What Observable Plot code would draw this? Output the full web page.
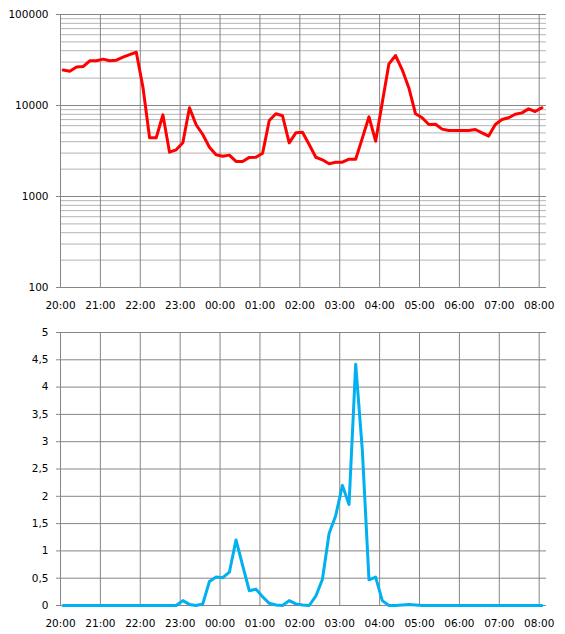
<!DOCTYPE html>
<html><head><meta charset="utf-8">
<script src="https://cdn.jsdelivr.net/npm/d3@7"></script>
<script src="https://cdn.jsdelivr.net/npm/@observablehq/plot@0.6"></script>
<style>
body{margin:0;background:#fff}
#chart svg{display:block}
</style>
</head><body><div id="chart"></div><script>
// Sample times (10-minute samples)
const times = ["20:04","20:14","20:24","20:34","20:44","20:54",
"21:04","21:14","21:24","21:34","21:44","21:54",
"22:04","22:14","22:24","22:34","22:44","22:54",
"23:04","23:14","23:24","23:34","23:44","23:54",
"00:04","00:14","00:24","00:34","00:44","00:54",
"01:04","01:14","01:24","01:34","01:44","01:54",
"02:04","02:14","02:24","02:34","02:44","02:54",
"03:04","03:14","03:24","03:34","03:44","03:54",
"04:04","04:14","04:24","04:34","04:44","04:54",
"05:04","05:14","05:24","05:34","05:44","05:54",
"06:04","06:14","06:24","06:34","06:44","06:54",
"07:04","07:14","07:24","07:34","07:44","07:54",
"08:04"];

// Top series (log scale)
const topValues = [24500,23800,26500,26800,31000,31000,32300,31000,31500,34000,36300,38500,
15900,4420,4420,7900,3070,3260,3890,9430,6140,4800,3480,2870,
2770,2850,2430,2430,2690,2700,2990,6840,8110,7710,3890,5010,
5090,3720,2700,2530,2290,2380,2380,2570,2570,4380,7510,4050,
10800,28700,35400,24700,15600,8110,7330,6180,6230,5500,5310,5310,
5310,5310,5450,5010,4610,6180,7010,7330,8020,8300,9180,8590,
9440];

// Bottom series (linear)
const bottomValues = [0,0,0,0,0,0,0,0,0,0,0,0,
0,0,0,0,0,0,0.09,0.02,0,0.03,0.44,0.52,
0.51,0.61,1.20,0.73,0.27,0.30,0.16,0.04,0.01,0,0.09,0.03,
0.01,0,0.17,0.48,1.32,1.65,2.20,1.85,4.42,2.84,0.47,0.52,
0.09,0,0,0.01,0.02,0.01,0,0,0,0,0,0,
0,0,0,0,0,0,0,0,0,0,0,0,
0];

// Axis ticks
const hourLabels = ["20:00","21:00","22:00","23:00","00:00","01:00","02:00","03:00","04:00","05:00","06:00","07:00","08:00"];
const axisEnd = "08:11";
const topMajor = [100,1000,10000,100000];
const topMinor = [200,300,400,500,600,700,800,900,2000,3000,4000,5000,6000,7000,8000,9000,20000,30000,40000,50000,60000,70000,80000,90000];
const bottomTicks = [0,0.5,1,1.5,2,2.5,3,3.5,4,4.5,5];

function toDate(s){
  const [h,m] = s.split(":").map(Number);
  const day = h >= 12 ? 1 : 2;
  return new Date(Date.UTC(2020,0,day,h,m));
}
const hourDates = hourLabels.map(toDate);
const xDomain = [hourDates[0], toDate(axisEnd)];
const fmt = d3.utcFormat("%H:%M");

const topData = times.map((t,i)=>({t:toDate(t), v:topValues[i]}));
const bottomData = times.map((t,i)=>({t:toDate(t), v:bottomValues[i]}));

const grid = "#868686";
const style = {fontFamily:"'DejaVu Sans', Verdana, sans-serif", fontSize:"10.5px", color:"#000", background:"#fff", overflow:"visible"};

const topChart = Plot.plot({
  width:565, height:318,
  marginTop:14, marginBottom:31, marginLeft:60, marginRight:19,
  style,
  x:{type:"utc", domain:xDomain, label:null},
  y:{type:"log", domain:[100,100000], label:null},
  marks:[
    Plot.ruleY(topMinor,{stroke:"#b4b4b4", strokeWidth:1}),
    Plot.ruleY(topMajor,{stroke:grid, strokeWidth:1}),
    Plot.ruleX(hourDates,{stroke:grid, strokeWidth:1}),
    Plot.axisY({ticks:topMajor, tickFormat:d=>String(d), tickSize:4, tickPadding:8, stroke:grid, label:null}),
    Plot.axisX({ticks:hourDates, tickFormat:fmt, tickSize:0, tickPadding:14, label:null}),
    Plot.lineY(topData,{x:"t", y:"v", stroke:"#ff0000", strokeWidth:3, strokeLinejoin:"round"})
  ]
});

const bottomChart = Plot.plot({
  width:565, height:316,
  marginTop:14, marginBottom:29, marginLeft:60, marginRight:19,
  style,
  x:{type:"utc", domain:xDomain, label:null},
  y:{domain:[0,5], label:null},
  marks:[
    Plot.ruleY(bottomTicks,{stroke:grid, strokeWidth:1}),
    Plot.ruleX(hourDates,{stroke:grid, strokeWidth:1}),
    Plot.axisY({ticks:bottomTicks, tickFormat:d=>String(d).replace(".", ","), tickSize:4, tickPadding:8, stroke:grid, label:null}),
    Plot.axisX({ticks:hourDates, tickFormat:fmt, tickSize:0, tickPadding:14, label:null}),
    Plot.lineY(bottomData,{x:"t", y:"v", stroke:"#00b0f0", strokeWidth:3, strokeLinejoin:"round"})
  ]
});

document.getElementById("chart").append(topChart, bottomChart);
</script></body></html>
